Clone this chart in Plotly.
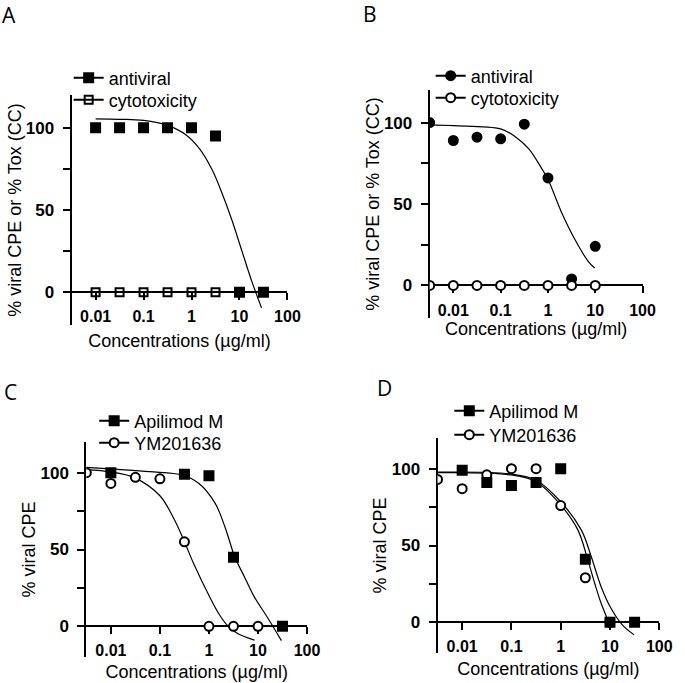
import plotly.graph_objects as go

# ---------------- data ----------------
# Panel A
a_x_anti = [0.01, 0.03162, 0.1, 0.3162, 1, 3.162, 10, 31.62]
a_y_anti = [100, 100, 100, 100, 100, 95, 0, 0]
a_x_cyto = [0.01, 0.03162, 0.1, 0.3162, 1, 3.162]
a_y_cyto = [0, 0, 0, 0, 0, 0]
a_fit_x = [0.01, 0.03162, 0.1, 0.3162, 0.77, 1.45, 2.72, 4.37, 7.0, 11.2, 18.0, 28.8]
a_fit_y = [105.5, 105.2, 104.5, 101.5, 95.7, 87.5, 74.2, 59.9, 43.6, 25.2, 6.7, -9.6]

# Panel B
b_x_anti = [0.003162, 0.01, 0.03162, 0.1, 0.3162, 1, 3.162, 10]
b_y_anti = [100, 89, 91, 90, 99, 66, 4, 24]
b_x_cyto = [0.003162, 0.01, 0.03162, 0.1, 0.3162, 1, 3.162, 10]
b_y_cyto = [0, 0, 0, 0, 0, 0, 0, 0]
b_fit_x = [0.003162, 0.01, 0.1, 0.214, 0.398, 0.75, 1, 1.95, 3.72, 7.08, 9.7]
b_fit_y = [98.6, 98.1, 96.1, 90.9, 83.7, 71.4, 65.2, 44.7, 28.2, 14.8, 10.7]

# Panel C
c_x_api = [0.01, 0.3162, 1, 3.162, 31.62]
c_y_api = [100, 99, 98, 45, 0]
c_x_ym = [0.003162, 0.01, 0.03162, 0.1, 0.3162, 1, 3.162, 10]
c_y_ym = [100, 93, 97, 96, 55, 0, 0, 0]
c_fit_api_x = [0.003162, 0.0135, 0.0617, 0.288, 0.617, 1.34, 2.12, 3.37, 5.33, 8.45, 15.5, 30.0]
c_fit_api_y = [103.5, 102.2, 100.7, 98.5, 93.1, 80, 64.7, 45.1, 32, 19, 5.9, -9.3]
c_fit_ym_x = [0.003162, 0.01, 0.0316, 0.1, 0.2, 0.316, 0.5, 1, 1.6, 2.46, 4, 8.5]
c_fit_ym_y = [102, 100.5, 96.5, 85, 69, 55, 40, 20, 8, 0, -5, -9]

# Panel D
d_x_api = [0.01, 0.03162, 0.1, 0.3162, 1, 3.162, 10, 31.62]
d_y_api = [99, 91, 89, 91, 100, 41, 0, 0]
d_x_ym = [0.003162, 0.01, 0.03162, 0.1, 0.3162, 1, 3.162, 10]
d_y_ym = [93, 87, 96, 100, 100, 76, 29, 0]
d_fit_api_x = [0.003162, 0.1, 0.3162, 1, 2.63, 4.17, 6.61, 10.5, 17.8, 30.9]
d_fit_api_y = [97.8, 96.5, 92.5, 78.5, 60, 42.7, 23.2, 9.1, -1.7, -8.2]
d_fit_ym_x = [0.003162, 0.1, 0.3162, 1, 2.24, 3.55, 4.9, 6.61, 10]
d_fit_ym_y = [97.4, 95.9, 91.5, 76.4, 60, 40.6, 25.4, 12.4, -1.7]

x_tickvals = [0.01, 0.1, 1, 10, 100]
x_ticktext = ["0.01", "0.1", "1", "10", "100"]
y_tickvals = [0, 50, 100]
y_minor = [25, 75]

FONT = "Liberation Sans, Arial, sans-serif"
X_RANGE = [-2.5, 2]
Y_RANGE = [-20, 120]
W, H = 685, 683

# panel geometry (pixels): x0, x1, ytop, ybottom, x-title standoff
panels = {
    "A": (73, 293, 95, 325, 9),
    "B": (438, 655, 90, 318, 2),
    "C": (88, 313, 442, 657, 6),
    "D": (446, 672, 438, 653, 7),
}

fig = go.Figure()


def add_axes(idx, key, ytitle):
    x0, x1, yt, yb, xst = panels[key]
    xd = [x0 / W, x1 / W]
    yd = [(H - yb) / H, (H - yt) / H]
    zero_pos = yd[0] + (0 - Y_RANGE[0]) / (Y_RANGE[1] - Y_RANGE[0]) * (yd[1] - yd[0])
    sfx = "" if idx == 1 else str(idx)
    fig.update_layout(**{
        "xaxis" + sfx: dict(
            type="log", range=X_RANGE, domain=xd, anchor="free", position=zero_pos,
            showline=True, linewidth=2, linecolor="black", showgrid=False, zeroline=False,
            ticks="outside", ticklen=7, tickwidth=2, tickcolor="black",
            tickvals=x_tickvals, ticktext=x_ticktext, ticklabelstandoff=3,
            tickfont=dict(family=FONT, size=16, color="black", weight="bold"),
            title=dict(text="Concentrations (µg/ml)", font=dict(family=FONT, size=18, color="black"), standoff=xst),
            layer="below traces",
        ),
        "yaxis" + sfx: dict(
            range=Y_RANGE, domain=yd, anchor="x" + sfx,
            showline=True, linewidth=2, linecolor="black", showgrid=False, zeroline=False,
            ticks="outside", ticklen=7, tickwidth=2, tickcolor="black",
            tickvals=y_tickvals, ticklabelstandoff=5,
            tickfont=dict(family=FONT, size=17, color="black", weight="bold"),
            minor=dict(tickvals=y_minor, ticks="outside", ticklen=7, tickwidth=2, tickcolor="black"),
            title=dict(text=ytitle, font=dict(family=FONT, size=18, color="black"), standoff=0),
            layer="below traces",
        ),
    })
    return "x" + sfx, "y" + sfx


def fit_line(xa, ya, x, y):
    fig.add_trace(go.Scatter(x=x, y=y, mode="lines", line=dict(color="black", width=1.2, shape="spline"),
                             xaxis=xa, yaxis=ya, showlegend=False, hoverinfo="skip"))


def points(xa, ya, x, y, symbol, fill, size, name, legend):
    mk = dict(symbol=symbol, size=size, color=fill, line=dict(color="black", width=2))
    fig.add_trace(go.Scatter(x=x, y=y, mode="markers", marker=mk, xaxis=xa, yaxis=ya,
                             showlegend=False, name=name))
    # legend entry (symbol with a line through it)
    fig.add_trace(go.Scatter(x=[None], y=[None], mode="lines+markers", marker=mk,
                             line=dict(color="black", width=2), xaxis=xa, yaxis=ya,
                             name=name, legend=legend, showlegend=True))


# A
xa, ya = add_axes(1, "A", "% viral CPE or % Tox (CC)")
fit_line(xa, ya, a_fit_x, a_fit_y)
points(xa, ya, a_x_cyto, a_y_cyto, "square-open", "black", 8, "cytotoxicity", "legend2")
points(xa, ya, a_x_anti, a_y_anti, "square", "black", 9, "antiviral", "legend")

# B
xa, ya = add_axes(2, "B", "% viral CPE or % Tox (CC)")
fit_line(xa, ya, b_fit_x, b_fit_y)
points(xa, ya, b_x_anti, b_y_anti, "circle", "black", 9, "antiviral", "legend3")
points(xa, ya, b_x_cyto, b_y_cyto, "circle", "white", 9, "cytotoxicity", "legend4")

# C
xa, ya = add_axes(3, "C", "% viral CPE")
fit_line(xa, ya, c_fit_api_x, c_fit_api_y)
fit_line(xa, ya, c_fit_ym_x, c_fit_ym_y)
points(xa, ya, c_x_api, c_y_api, "square", "black", 9, "Apilimod M", "legend5")
points(xa, ya, c_x_ym, c_y_ym, "circle", "white", 9, "YM201636", "legend6")

# D
xa, ya = add_axes(4, "D", "% viral CPE")
fit_line(xa, ya, d_fit_api_x, d_fit_api_y)
fit_line(xa, ya, d_fit_ym_x, d_fit_ym_y)
points(xa, ya, d_x_ym, d_y_ym, "circle", "white", 9, "YM201636", "legend8")
points(xa, ya, d_x_api, d_y_api, "square", "black", 9, "Apilimod M", "legend7")

# legend placement: (left x px, item centre y px)
legend_pos = {
    "legend": (70, 78), "legend2": (70, 100),
    "legend3": (439, 76), "legend4": (439, 98),
    "legend5": (96, 421), "legend6": (96, 443),
    "legend7": (458, 411), "legend8": (458, 435),
}
for lg, (lx, ly) in legend_pos.items():
    fig.update_layout(**{lg: dict(x=lx / W, y=1 - (ly - 18.5) / H, xanchor="left", yanchor="top",
                                  font=dict(family=FONT, size=18, color="black"),
                                  bgcolor="rgba(0,0,0,0)", borderwidth=0, itemwidth=30)})

# panel letters: (text, x px, y px, xanchor, yanchor)
letters = [("A", 1, 0, "left", "top"), ("B", 377, 14, "center", "middle"),
           ("C", 11, 392, "center", "middle"), ("D", 392, 388, "center", "middle")]
for txt, px, py, xan, yan in letters:
    fig.add_annotation(text=txt, x=px / W, y=1 - py / H, xref="paper", yref="paper",
                       showarrow=False, xanchor=xan, yanchor=yan, borderpad=0,
                       font=dict(family="Open Sans, Liberation Sans, sans-serif", size=21, color="black"))

fig.update_layout(width=W, height=H, margin=dict(l=0, r=0, t=0, b=0),
                  paper_bgcolor="white", plot_bgcolor="white")

fig.write_html("out.html", config={"displayModeBar": False},
               post_script="document.body.style.margin='0px';")
